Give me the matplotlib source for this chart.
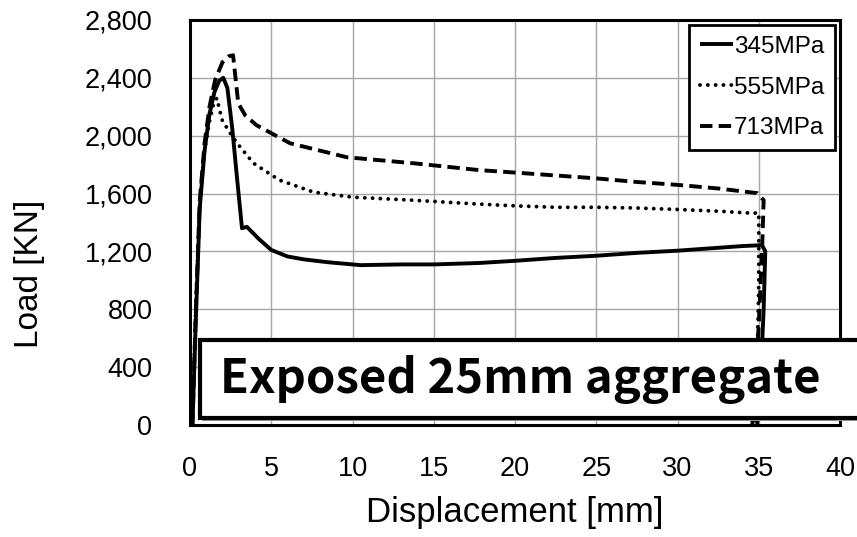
import matplotlib.pyplot as plt
from matplotlib.patches import Rectangle
from matplotlib.ticker import FuncFormatter

# load-displacement curves for three steel grades
disp_345 = [0.15, 0.35, 0.6, 0.9, 1.2, 1.5, 1.8, 2.05, 2.3, 2.6, 2.9, 3.2, 3.5, 4.2, 5.0, 6.0, 7.0, 8.5,
            10.5, 13.0, 15.0, 17.8, 20.0, 22.5, 25.0, 27.5, 30.0, 32.5, 34.0, 35.2, 35.4, 35.3, 35.1, 34.9]
load_345 = [0, 700, 1500, 1900, 2150, 2300, 2380, 2400, 2330, 2050, 1700, 1360, 1370, 1290, 1210, 1165,
            1145, 1125, 1105, 1110, 1110, 1120, 1135, 1155, 1170, 1190, 1205, 1225, 1237, 1243, 1200, 800, 300, 0]

disp_555 = [0.15, 0.35, 0.6, 0.9, 1.2, 1.45, 1.65, 1.97, 2.4, 2.9, 3.9, 5.5, 7.6, 10.0, 13.7, 17.8,
            20.0, 22.5, 25.0, 27.5, 30.0, 32.5, 34.5, 35.0, 35.0, 34.9, 34.8]
load_555 = [0, 800, 1550, 1900, 2100, 2220, 2260, 2110, 2030, 1948, 1810, 1693, 1610, 1575, 1554, 1527,
            1515, 1505, 1505, 1500, 1490, 1478, 1465, 1465, 1000, 400, 0]

disp_713 = [0.15, 0.35, 0.6, 0.9, 1.2, 1.54, 2.0, 2.4, 2.65, 2.8, 2.97, 3.4, 4.1, 6.15, 9.65, 13.7,
            17.8, 20.0, 22.5, 25.0, 27.5, 30.0, 32.5, 34.9, 35.3, 35.2, 35.0, 34.8, 34.6]
load_713 = [0, 750, 1550, 1950, 2200, 2383, 2508, 2550, 2556, 2400, 2224, 2140, 2072, 1948, 1851, 1810,
            1762, 1745, 1725, 1705, 1680, 1660, 1635, 1603, 1554, 1200, 700, 300, 0]

series = [("345MPa", disp_345, load_345, "-"),
          ("555MPa", disp_555, load_555, (0, (0.01, 2.0))),
          ("713MPa", disp_713, load_713, (0, (3.2, 1.6)))]

x_ticks = list(range(0, 41, 5))
y_ticks = list(range(0, 2801, 400))

plt.rcParams["font.family"] = ["Liberation Sans", "DejaVu Sans"]

fig = plt.figure(figsize=(8.57, 5.37), dpi=100)
ax = fig.add_axes([0.2217, 0.2086, 0.7585, 0.7542])

for name, x, y, ls in series:
    dotted = isinstance(ls, tuple) and ls[1][0] < 0.1
    ax.plot(x, y, color="black", linestyle=ls, linewidth=2.8, label=name,
            solid_capstyle="butt", dash_capstyle="round" if dotted else "butt")

ax.set_xlim(0, 40)
ax.set_ylim(0, 2800)
ax.set_xticks(x_ticks)
ax.set_yticks(y_ticks)
ax.yaxis.set_major_formatter(FuncFormatter(lambda v, p: f"{int(v):,}"))
ax.grid(True, color="#a6a6a6", linewidth=1.0)
ax.set_axisbelow(True)
ax.tick_params(length=0, labelsize=19.5)
ax.tick_params(axis="x", pad=22)
ax.tick_params(axis="y", pad=27)
for sp in ax.spines.values():
    sp.set_linewidth(2.2)
    sp.set_color("black")

ax.set_xlabel("Displacement [mm]", fontsize=25)
ax.xaxis.set_label_coords(0.5, -0.175)
ax.set_ylabel("Load [KN]", fontsize=24)
ax.yaxis.set_label_coords(-0.223, 0.374)

leg = ax.legend(loc="upper right", fontsize=17.5, handlelength=1.35, handletextpad=0.05,
                labelspacing=0.77, borderpad=0.45, borderaxespad=0.2, fancybox=False,
                framealpha=1)
leg.get_frame().set_edgecolor("black")
leg.get_frame().set_linewidth(2.0)

# caption banner laid over the lower part of the plot
fig.patches.append(Rectangle((202 / 857, 1 - 421 / 537), 0.8, 80 / 537, transform=fig.transFigure,
                             facecolor="#9a9a9a", edgecolor="none", zorder=9))
fig.patches.append(Rectangle((200 / 857, 1 - 418 / 537), 0.8, 78 / 537, transform=fig.transFigure,
                             facecolor="white", edgecolor="black", linewidth=3, zorder=10))
fig.text(220 / 857, 1 - 380 / 537, "Exposed 25mm aggregate", fontsize=34, fontweight="bold",
         family=["Noto Sans CJK KR", "DejaVu Sans"], va="center", ha="left", zorder=11)

fig.savefig("out.png", dpi=100)
